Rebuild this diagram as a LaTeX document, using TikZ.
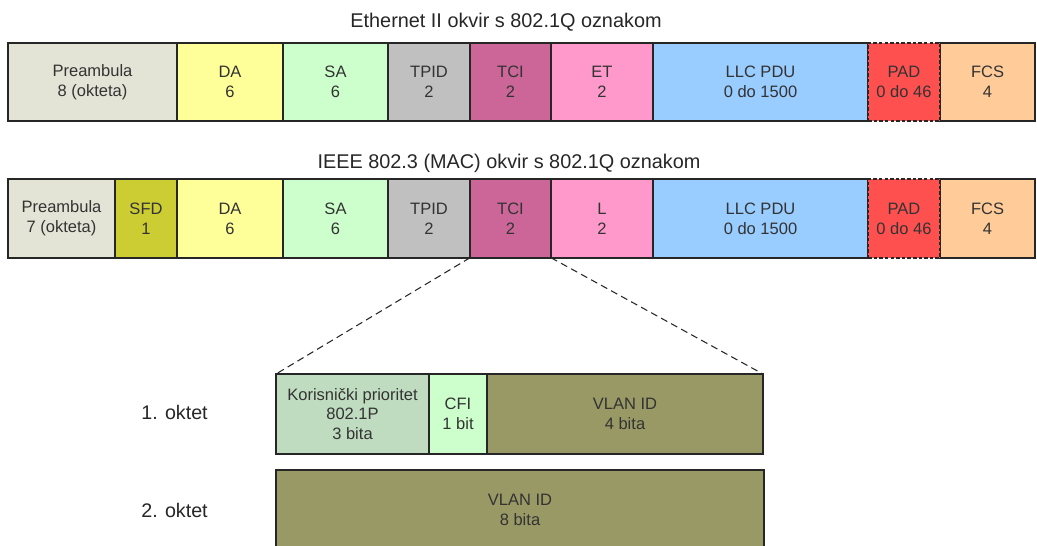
\documentclass[tikz,border=0pt]{standalone}
\usepackage{fontspec}
\setmainfont{Liberation Sans}
\usepackage{xcolor}
\definecolor{cpre}{HTML}{E4E4D6}
\definecolor{cda}{HTML}{FFFF99}
\definecolor{csa}{HTML}{CCFFCC}
\definecolor{ctpid}{HTML}{C0C0C0}
\definecolor{ctci}{HTML}{CC6699}
\definecolor{cet}{HTML}{FF99CC}
\definecolor{cllc}{HTML}{99CCFF}
\definecolor{cpad}{HTML}{FF5050}
\definecolor{cfcs}{HTML}{FFCC99}
\definecolor{csfd}{HTML}{CCCC33}
\definecolor{ckor}{HTML}{C0DCC0}
\definecolor{cvlan}{HTML}{999966}
\newcommand{\sitno}{\fontsize{9.4}{11.3}\selectfont}

\begin{document}
\begin{tikzpicture}[x=0.02cm,y=-0.02cm,
		polje/.style={draw=black!85,line width=0.9pt,inner sep=0pt,outer sep=0pt,align=center,font=\sitno,text=black!80,minimum height=1.57cm},
		naslov/.style={font=\fontsize{11.3}{13.5}\selectfont,text=black!85},
		oktet/.style={font=\fontsize{11.2}{13}\selectfont,text=black!85}]
		\useasboundingbox (0,0) rectangle (1037,545);
		\clip (0,0) rectangle (1037,545);
		% Ethernet II
		\node[naslov] (t1) at (506,22) {Ethernet II okvir s 802.1Q oznakom};
		\node[polje,fill=cpre,minimum width=3.38cm] (pre1) at (92.5,82) {Preambula\\8 (okteta)};
		\node[polje,fill=cda,minimum width=2.12cm] (da1) at (230,82) {DA\\6};
		\node[polje,fill=csa,minimum width=2.10cm] (sa1) at (335.5,82) {SA\\6};
		\node[polje,fill=ctpid,minimum width=1.64cm] (tpid1) at (429,82) {TPID\\2};
		\node[polje,fill=ctci,minimum width=1.62cm] (tci1) at (510.5,82) {TCI\\2};
		\node[polje,fill=cet,minimum width=2.04cm] (et1) at (602,82) {ET\\2};
		\node[polje,fill=cllc,minimum width=4.30cm] (llc1) at (760.5,82) {LLC PDU\\0 do 1500};
		\node[polje,fill=cfcs,minimum width=1.90cm] (fcs1) at (987.5,82) {FCS\\4};
		\node[polje,fill=cpad,dash pattern=on 2pt off 1.2pt,minimum width=1.44cm] (pad1) at (904,82) {PAD\\0 do 46};
		% IEEE 802.3
		\node[naslov] (t2) at (509,163) {IEEE 802.3 (MAC) okvir s 802.1Q oznakom};
		\node[polje,fill=cpre,minimum width=2.14cm] (pre2) at (61.5,218.5) {Preambula\\7 (okteta)};
		\node[polje,fill=csfd,minimum width=1.24cm] (sfd2) at (146,218.5) {SFD\\1};
		\node[polje,fill=cda,minimum width=2.12cm] (da2) at (230,218.5) {DA\\6};
		\node[polje,fill=csa,minimum width=2.10cm] (sa2) at (335.5,218.5) {SA\\6};
		\node[polje,fill=ctpid,minimum width=1.64cm] (tpid2) at (429,218.5) {TPID\\2};
		\node[polje,fill=ctci,minimum width=1.62cm] (tci2) at (510.5,218.5) {TCI\\2};
		\node[polje,fill=cet,minimum width=2.04cm] (l2) at (602,218.5) {L\\2};
		\node[polje,fill=cllc,minimum width=4.30cm] (llc2) at (760.5,218.5) {LLC PDU\\0 do 1500};
		\node[polje,fill=cfcs,minimum width=1.90cm] (fcs2) at (987.5,218.5) {FCS\\4};
		\node[polje,fill=cpad,dash pattern=on 2pt off 1.2pt,minimum width=1.44cm] (pad2) at (904,218.5) {PAD\\0 do 46};
		% TCI
		\node[polje,fill=ckor,minimum width=3.06cm,minimum height=1.60cm] (kor) at (352.5,414) {Korisnički prioritet\\802.1P\\3 bita};
		\node[polje,fill=csa,minimum width=1.16cm,minimum height=1.60cm] (cfi) at (458,414) {CFI\\1 bit};
		\node[polje,fill=cvlan,minimum width=5.52cm,minimum height=1.60cm] (vlan1) at (625,414) {VLAN ID\\4 bita};
		\node[polje,fill=cvlan,minimum width=9.76cm,minimum height=1.58cm] (vlan2) at (520,509.5) {VLAN ID\\8 bita};
		\node[oktet] (o1) at (174.5,412) {1. oktet};
		\node[oktet] (o2) at (174.5,510) {2. oktet};
		\draw[black!85,line width=0.6pt,dash pattern=on 4pt off 2.5pt] (tci2.south west) -- (kor.north west);
		\draw[black!85,line width=0.6pt,dash pattern=on 4pt off 2.5pt] (tci2.south east) -- (vlan1.north east);
		\end{tikzpicture}
\end{document}
